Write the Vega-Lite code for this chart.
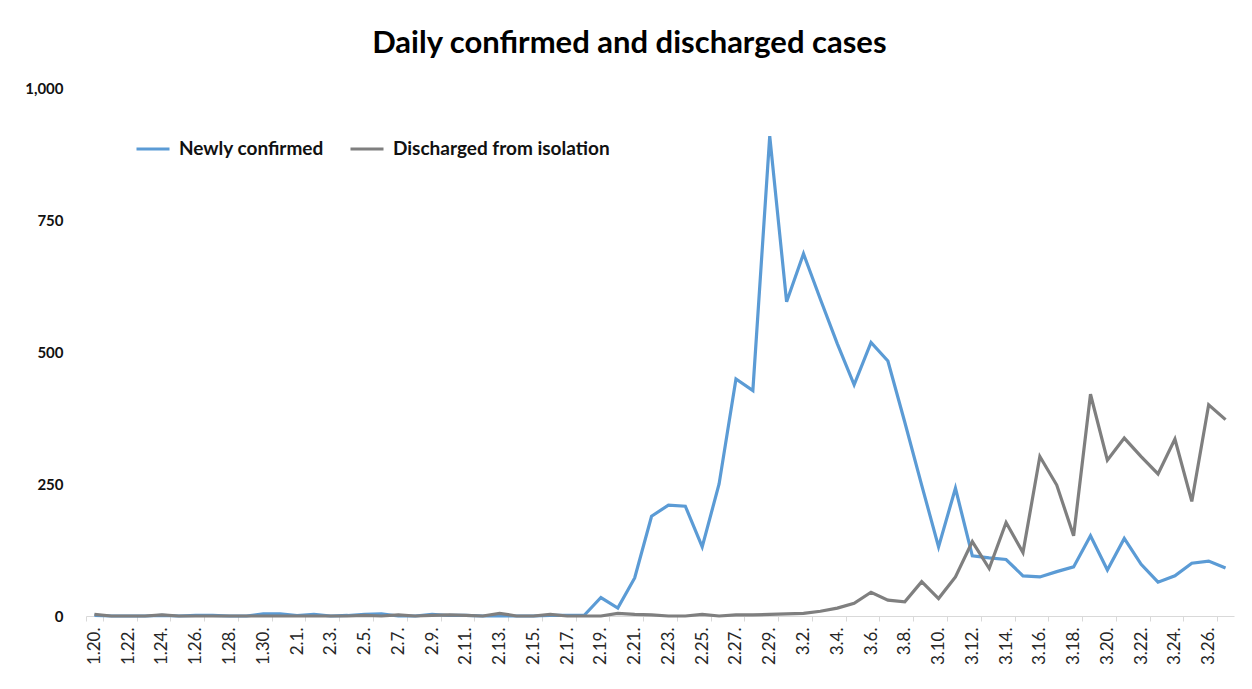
{
  "$schema": "https://vega.github.io/schema/vega-lite/v6.json",
  "width": 1148,
  "height": 528,
  "autosize": {"type": "none"},
  "padding": {"left": 86, "top": 88, "right": 18, "bottom": 73},
  "background": "white",
  "title": {
    "text": "Daily confirmed and discharged cases",
    "font": "Lato",
    "fontSize": 31,
    "fontWeight": "bold",
    "color": "#000000",
    "anchor": "middle",
    "frame": "bounds",
    "offset": 21
  },
  "data": {
    "values": [
      {"d": "1.20.", "Newly confirmed": 1, "Discharged from isolation": 3},
      {"d": "1.21.", "Newly confirmed": 0, "Discharged from isolation": 0},
      {"d": "1.22.", "Newly confirmed": 0, "Discharged from isolation": 0},
      {"d": "1.23.", "Newly confirmed": 0, "Discharged from isolation": 0},
      {"d": "1.24.", "Newly confirmed": 1, "Discharged from isolation": 2},
      {"d": "1.25.", "Newly confirmed": 0, "Discharged from isolation": 0},
      {"d": "1.26.", "Newly confirmed": 1, "Discharged from isolation": 0},
      {"d": "1.27.", "Newly confirmed": 1, "Discharged from isolation": 0},
      {"d": "1.28.", "Newly confirmed": 0, "Discharged from isolation": 0},
      {"d": "1.29.", "Newly confirmed": 0, "Discharged from isolation": 0},
      {"d": "1.30.", "Newly confirmed": 4, "Discharged from isolation": 0},
      {"d": "1.31.", "Newly confirmed": 4, "Discharged from isolation": 0},
      {"d": "2.1.", "Newly confirmed": 1, "Discharged from isolation": 0},
      {"d": "2.2.", "Newly confirmed": 3, "Discharged from isolation": 0},
      {"d": "2.3.", "Newly confirmed": 0, "Discharged from isolation": 0},
      {"d": "2.4.", "Newly confirmed": 1, "Discharged from isolation": 0},
      {"d": "2.5.", "Newly confirmed": 3, "Discharged from isolation": 1},
      {"d": "2.6.", "Newly confirmed": 4, "Discharged from isolation": 0},
      {"d": "2.7.", "Newly confirmed": 0, "Discharged from isolation": 2},
      {"d": "2.8.", "Newly confirmed": 0, "Discharged from isolation": 0},
      {"d": "2.9.", "Newly confirmed": 3, "Discharged from isolation": 1},
      {"d": "2.10.", "Newly confirmed": 1, "Discharged from isolation": 2},
      {"d": "2.11.", "Newly confirmed": 1, "Discharged from isolation": 1},
      {"d": "2.12.", "Newly confirmed": 0, "Discharged from isolation": 0},
      {"d": "2.13.", "Newly confirmed": 0, "Discharged from isolation": 5},
      {"d": "2.14.", "Newly confirmed": 0, "Discharged from isolation": 0},
      {"d": "2.15.", "Newly confirmed": 0, "Discharged from isolation": 0},
      {"d": "2.16.", "Newly confirmed": 1, "Discharged from isolation": 3},
      {"d": "2.17.", "Newly confirmed": 1, "Discharged from isolation": 0},
      {"d": "2.18.", "Newly confirmed": 1, "Discharged from isolation": 0},
      {"d": "2.19.", "Newly confirmed": 35, "Discharged from isolation": 0},
      {"d": "2.20.", "Newly confirmed": 15, "Discharged from isolation": 5},
      {"d": "2.21.", "Newly confirmed": 72, "Discharged from isolation": 3},
      {"d": "2.22.", "Newly confirmed": 189, "Discharged from isolation": 2},
      {"d": "2.23.", "Newly confirmed": 210, "Discharged from isolation": 0},
      {"d": "2.24.", "Newly confirmed": 208, "Discharged from isolation": 0},
      {"d": "2.25.", "Newly confirmed": 131, "Discharged from isolation": 3},
      {"d": "2.26.", "Newly confirmed": 250, "Discharged from isolation": 0},
      {"d": "2.27.", "Newly confirmed": 449, "Discharged from isolation": 2},
      {"d": "2.28.", "Newly confirmed": 427, "Discharged from isolation": 2},
      {"d": "2.29.", "Newly confirmed": 909, "Discharged from isolation": 3},
      {"d": "3.1.", "Newly confirmed": 595, "Discharged from isolation": 4},
      {"d": "3.2.", "Newly confirmed": 686, "Discharged from isolation": 5},
      {"d": "3.3.", "Newly confirmed": 600, "Discharged from isolation": 9},
      {"d": "3.4.", "Newly confirmed": 516, "Discharged from isolation": 15},
      {"d": "3.5.", "Newly confirmed": 438, "Discharged from isolation": 24},
      {"d": "3.6.", "Newly confirmed": 518, "Discharged from isolation": 45},
      {"d": "3.7.", "Newly confirmed": 483, "Discharged from isolation": 30},
      {"d": "3.8.", "Newly confirmed": 367, "Discharged from isolation": 27},
      {"d": "3.9.", "Newly confirmed": 248, "Discharged from isolation": 65},
      {"d": "3.10.", "Newly confirmed": 131, "Discharged from isolation": 33},
      {"d": "3.11.", "Newly confirmed": 242, "Discharged from isolation": 74},
      {"d": "3.12.", "Newly confirmed": 114, "Discharged from isolation": 141},
      {"d": "3.13.", "Newly confirmed": 110, "Discharged from isolation": 90},
      {"d": "3.14.", "Newly confirmed": 107, "Discharged from isolation": 177},
      {"d": "3.15.", "Newly confirmed": 76, "Discharged from isolation": 120},
      {"d": "3.16.", "Newly confirmed": 74, "Discharged from isolation": 302},
      {"d": "3.17.", "Newly confirmed": 84, "Discharged from isolation": 248},
      {"d": "3.18.", "Newly confirmed": 93, "Discharged from isolation": 152},
      {"d": "3.19.", "Newly confirmed": 152, "Discharged from isolation": 420},
      {"d": "3.20.", "Newly confirmed": 87, "Discharged from isolation": 295},
      {"d": "3.21.", "Newly confirmed": 147, "Discharged from isolation": 337},
      {"d": "3.22.", "Newly confirmed": 98, "Discharged from isolation": 302},
      {"d": "3.23.", "Newly confirmed": 64, "Discharged from isolation": 269},
      {"d": "3.24.", "Newly confirmed": 76, "Discharged from isolation": 335},
      {"d": "3.25.", "Newly confirmed": 100, "Discharged from isolation": 217},
      {"d": "3.26.", "Newly confirmed": 104, "Discharged from isolation": 400},
      {"d": "3.27.", "Newly confirmed": 91, "Discharged from isolation": 372}
    ]
  },
  "transform": [
    {"fold": ["Newly confirmed", "Discharged from isolation"], "as": ["series", "value"]}
  ],
  "mark": {"type": "line", "strokeWidth": 3.2, "strokeJoin": "miter"},
  "encoding": {
    "x": {
      "field": "d",
      "type": "ordinal",
      "sort": null,
      "scale": {"type": "band", "paddingInner": 0, "paddingOuter": 0},
      "axis": {
        "title": null,
        "values": ["1.20.","1.22.","1.24.","1.26.","1.28.","1.30.","2.1.","2.3.","2.5.","2.7.","2.9.","2.11.","2.13.","2.15.","2.17.","2.19.","2.21.","2.23.","2.25.","2.27.","2.29.","3.2.","3.4.","3.6.","3.8.","3.10.","3.12.","3.14.","3.16.","3.18.","3.20.","3.22.","3.24.","3.26."],
        "tickBand": "extent",
        "labelAngle": -90,
        "labelFont": "Lato",
        "labelFontSize": 17,
        "labelColor": "#262626",
        "labelPadding": 6,
        "tickSize": 5,
        "tickColor": "#d9d9d9",
        "domainColor": "#d9d9d9",
        "domainWidth": 1,
        "grid": false
      }
    },
    "y": {
      "field": "value",
      "type": "quantitative",
      "scale": {"domain": [0, 1000], "nice": false},
      "axis": {
        "title": null,
        "values": [0, 250, 500, 750, 1000],
        "format": ",.0f",
        "domain": false,
        "ticks": false,
        "grid": false,
        "labelFont": "Lato",
        "labelFontSize": 15,
        "labelFontWeight": "bold",
        "labelColor": "#111111",
        "labelPadding": 23
      }
    },
    "color": {
      "field": "series",
      "type": "nominal",
      "scale": {
        "domain": ["Newly confirmed", "Discharged from isolation"],
        "range": ["#5B9BD5", "#7F7F7F"]
      },
      "legend": {
        "title": null,
        "orient": "none",
        "direction": "horizontal",
        "legendX": 49,
        "legendY": 43,
        "symbolType": "stroke",
        "symbolSize": 1089,
        "symbolStrokeWidth": 3,
        "labelFont": "Lato",
        "labelFontSize": 19,
        "labelFontWeight": "bold",
        "labelColor": "#111111",
        "labelOffset": 8,
        "labelLimit": 0,
        "columnPadding": 20
      }
    }
  },
  "config": {"view": {"stroke": null}}
}
